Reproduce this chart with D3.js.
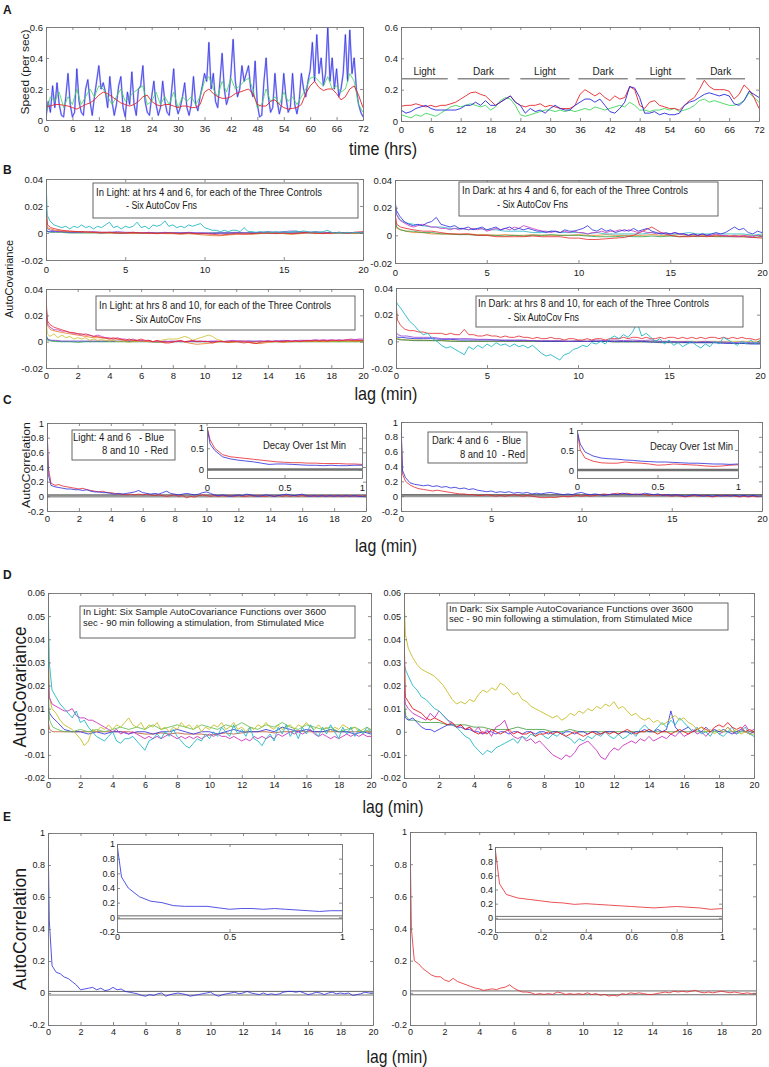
<!DOCTYPE html>
<html><head><meta charset="utf-8">
<script src="https://cdn.jsdelivr.net/npm/d3@7"></script>
<style>body{margin:0;background:#fff}svg{display:block}</style>
</head><body>
<script>
// ================= DATA =================
const hoursHalf = d3.range(0, 145).map(i => i * 0.5);
const hoursOne = d3.range(0, 73);
const lagFine = [0, 0.08].concat(d3.range(1, 81).map(i => i * 0.25));
const lagCoarse = [0, 0.1, 0.3, 0.6].concat(d3.range(0, 39).map(i => 1 + i * 0.5));
const lagInset = [0, 0.02].concat(d3.range(1, 21).map(i => i * 0.05));

const ticksHours = [0,6,12,18,24,30,36,42,48,54,60,66,72];
const ticksSpeed = [0,0.2,0.4,0.6];
const ticksLag5 = [0,5,10,15,20];
const ticksLag2 = [0,2,4,6,8,10,12,14,16,18,20];
const ticksCov = [-0.02,0,0.02,0.04];
const ticksCorr = [-0.2,0,0.2,0.4,0.6,0.8,1];
const ticksCovD = [-0.02,-0.01,0,0.01,0.02,0.03,0.04,0.05,0.06];
const ticksHalf = [0,0.5,1];
const ticksFifth = [0,0.2,0.4,0.6,0.8,1];

// Panel A – light/dark phases
const phaseLabels = ["Light","Dark","Light","Dark","Light","Dark"];
const phaseStart = [0, 11.4, 24, 35.7, 47.2, 59.4];
const phaseEnd = [9.4, 21.8, 33.9, 45.6, 57.2, 69.2];
const phaseLevel = 0.27;

// Panel A left (speed, per sec)
const aLeftBlue = [
 .02,.12,.05,.22,.08,.24,.1,.03,.02,.15,.3,.1,
 .02,.05,.33,.12,.05,.03,.2,.26,.12,.03,.15,.25,
 .35,.2,.24,.18,.08,.28,.12,.03,.1,.22,.28,.08,
 .02,.18,.1,.31,.1,.03,.2,.22,.35,.12,.05,.03,
 .15,.25,.1,.03,.08,.25,.12,.05,.03,.18,.33,.1,
 .04,.08,.15,.24,.08,.03,.1,.28,.1,.06,.15,.22,
 .3,.25,.5,.2,.3,.12,.08,.25,.43,.2,.1,.15,
 .3,.52,.25,.15,.2,.35,.25,.3,.35,.2,.15,.38,
 .1,.02,.03,.25,.4,.15,.05,.08,.3,.12,.04,.1,
 .3,.15,.05,.08,.3,.1,.04,.12,.3,.2,.15,.25,
 .32,.5,.25,.55,.3,.4,.22,.3,.6,.25,.4,.2,
 .33,.15,.2,.3,.55,.25,.58,.3,.4,.2,.1,.05,
 .02];
const aLeftGreen = [
 .05,.15,.12,.18,.08,.15,.1,.2,.1,.15,.2,.15,
 .22,.2,.15,.1,.15,.2,.12,.15,.18,.2,.22,.1,
 .12,.18,.1,.15,.1,.18,.08,.15,.12,.15,.1,.15,
 .25,.28,.2,.15,.25,.18,.27,.2,.22,.25,.27,.2,
 .08,.1,.2,.12,.15,.1,.18,.12,.15,.1,.15,.2,
 .27,.28,.25,.22,.28,.2,.22,.18,.2,.3,.25,.1,
 .05];
const aLeftRed = [
 .086,.09,.1,.1,.095,.09,.08,.07,.085,.1,.11,.13,
 .16,.18,.17,.15,.13,.11,.1,.09,.1,.12,.15,.16,
 .12,.1,.09,.1,.1,.09,.08,.09,.09,.08,.08,.1,
 .18,.2,.17,.15,.14,.14,.15,.17,.18,.19,.2,.17,
 .1,.09,.09,.12,.13,.1,.08,.07,.075,.08,.1,.17,
 .22,.25,.21,.19,.2,.2,.17,.13,.15,.2,.22,.16,
 .08];
// Panel A right
const aRightRed = [
 .094,.1,.1,.11,.1,.09,.1,.09,.1,.1,.11,.12,
 .14,.16,.18,.185,.17,.16,.13,.1,.12,.14,.16,.12,
 .1,.09,.1,.1,.11,.09,.1,.09,.08,.08,.08,.1,
 .17,.2,.18,.16,.18,.15,.13,.16,.14,.15,.22,.2,
 .1,.08,.12,.13,.1,.09,.08,.08,.07,.1,.13,.15,
 .2,.26,.22,.2,.2,.2,.19,.14,.17,.23,.2,.15,
 .08];
const aRightBlue = [
 .07,.05,.06,.08,.09,.1,.08,.07,.07,.07,.07,.07,
 .08,.1,.1,.12,.1,.13,.1,.1,.12,.14,.16,.12,
 .1,.05,.08,.06,.07,.05,.08,.1,.08,.07,.07,.1,
 .12,.14,.14,.12,.14,.1,.06,.05,.08,.12,.22,.21,
 .15,.05,.05,.06,.04,.05,.04,.04,.05,.1,.12,.13,
 .15,.17,.18,.17,.16,.17,.16,.11,.1,.13,.19,.17,
 .15];
const aRightGreen = [
 .04,.03,.02,.04,.03,.05,.04,.03,.05,.07,.09,.1,
 .09,.1,.11,.1,.09,.1,.07,.09,.13,.15,.14,.1,
 .04,.03,.04,.05,.06,.07,.07,.06,.07,.06,.07,.06,
 .07,.08,.07,.09,.08,.07,.08,.09,.1,.09,.12,.1,
 .07,.07,.06,.07,.07,.08,.07,.08,.06,.07,.08,.1,
 .13,.14,.12,.13,.12,.11,.1,.1,.11,.13,.18,.15,
 .12];

// Panel B top-left (Light, hrs 4 and 6)
const bTLTeal = [.04,.013,
 .009,.006,.005,.004,.005,.003,.005,.004,
 .006,.004,.005,.003,.005,.004,.006,.008,
 .004,.005,.003,.005,.004,.005,.008,.004,
 .005,.003,.006,.005,.006,.009,.005,.006,
 .004,.005,.004,.006,.005,.006,.007,.004,
 .003,.002,.002,.001,.002,.001,.002,.002,
 .001,.004,.001,.001,.0005,.001,.0005,.001,
 .0005,.001,.0005,.001,.0005,.001,.0015,.001,
 .0015,.001,.0005,.001,.0005,.001,.002,.0005,
 0,.0005,0,.0005,0,.0005,0,.0005];
const bTLRed = [.02,.006,.004,.003,
 .002,.0015,.001,.001,.0005,.0005,.0005,0,
 0,.0005,0,0,-.0005,0,0,-.0005,
 0,-.0005,-.0005,-.001,-.0015,-.001,-.0005,-.001,
 -.0005,0,0,-.0005,0,-.0005,0,.0005,
 0,-.0005,0,.0005,0,.0005,.001];
const bTLOrange = [.015,.004,.003,.002,
 .0015,.001,.001,.0005,.0005,0,0,0,
 0,-.0005,0,-.0005,0,-.0005,-.0005,-.001,
 -.0005,-.001,-.0015,-.002,-.002,-.0015,-.001,-.0005,
 -.001,-.0005,0,0,-.0005,-.001,-.0005,0,
 -.0005,0,-.0005,0,0,-.0005,0];
const bTLPurple = [.006,.003,.002,.0015,
 .001,.001,.001,.0005,.001,.0005,.0005,.001,
 .0005,.0005,0,.0005,0,.0005,0,0,
 .0005,0,0,-.0005,0,0,.0005,0,
 0,.0005,.001,.0005,.001,.0015,.001,.0005,
 .001,.0005,0,.0005,0,.0005,.0005];
const bTLBlue = [.002,.001,.001,.001,
 .001,.0005,.0005,.0005,.0005,0,.0005,0,
 0,0,0,0,0,0,0,0,
 0,0,0,0,0,0,0,0,
 0,0,0,0,0,0,0,0,
 0,0,0,0,0,0,0];
const bTLGreen = [.004,.001,.0005,.0005,
 .0005,0,0,0,0,0,0,0,
 0,0,0,0,0,0,0,0,
 0,-.0005,-.0005,0,0,0,0,0,
 0,0,0,0,0,0,0,.0005,
 0,0,.0005,0,0,0,0];

// Panel B top-right (Dark, hrs 4 and 6)
const bTRBlue = [.025,.018,
 .014,.01,.008,.007,.008,.007,.009,.01,
 .013,.008,.007,.006,.007,.005,.005,.006,
 .004,.005,.006,.004,.005,.006,.004,.005,
 .006,.004,.005,.004,.005,.004,.003,.003,
 .002,.003,.003,.002,.004,.003,.003,.004,
 .005,.007,.004,.003,.005,.003,.004,.002,
 .003,.004,.003,.005,.003,.004,.005,.003,
 .002,.001,.002,.001,.002,.001,.001,0,
 .001,0,.001,0,.001,.002,.001,.002,
 .004,.006,.004,.005,.002,.001,.003,.002];
const bTRPurple = [.02,.015,
 .011,.009,.007,.006,.007,.008,.007,.006,
 .006,.005,.005,.004,.005,.004,.005,.004,
 .005,.004,.005,.003,.004,.005,.004,.005,
 .004,.006,.005,.007,.006,.005,.004,.003,
 .003,.002,.003,.002,.003,.002,.003,.002,
 .002,.001,.002,.002,.003,.002,.003,.003,
 .004,.003,.004,.003,.002,.003,.002,.002,
 .001,.002,.001,.001,.002,.001,.001,0,
 .001,0,.001,0,0,.001,0,0,
 -.001,0,-.001,0,-.001,-.001,0,-.001];
const bTRTeal = [.022,.015,.011,.009,
 .008,.007,.006,.006,.005,.005,.004,.005,
 .004,.004,.003,.003,.003,.002,.002,.003,
 .002,.002,.002,.001,.002,.001,.001,.001,
 .001,.001,.002,.001,.001,.001,.002,.001,
 .001,.001,.001,.001,.001,0,.001];
const bTRRed = [.016,.008,.006,.005,
 .004,.003,.003,.002,.001,.001,.001,0,
 0,-.001,-.001,-.001,-.001,-.0005,-.001,-.001,
 -.001,-.002,-.002,-.003,-.003,-.0025,-.002,-.0015,
 0,.003,.006,.002,0,-.001,-.001,-.0005,
 -.001,-.0005,-.0005,-.001,-.001,-.0015,-.002];
const bTRGreen = [.01,.006,.004,.003,
 .003,.002,.002,.001,.001,.0005,.0005,0,
 0,0,-.0005,0,-.0005,0,0,.0005,
 0,0,0,-.0005,-.001,-.001,-.001,-.0005,
 -.001,-.001,-.0005,-.001,-.0005,-.001,-.0005,-.001,
 -.0005,-.001,-.001,-.001,-.001,-.0015,-.001];
const bTROrange = [.012,.005,.004,.003,
 .002,.002,.001,.001,.001,.0005,.001,.0005,
 .0005,0,.0005,0,0,.0005,0,0,
 0,0,.0005,0,0,.0005,0,0,
 0,0,.0005,0,0,.0005,0,0,
 0,0,-.0005,0,0,0,-.0005];

// Panel B bottom-left (Light, hrs 8 and 10)
const bBLRed = [.035,.016,
 .013,.011,.01,.009,.008,.007,.007,.006,
 .006,.005,.005,.004,.004,.003,.003,.002,
 .003,.002,.002,.001,.002,.001,.001,.002,
 .001,.001,0,.001,0,-.001,-.001,-.0005,
 .0005,.001,0,.0005,.001,0,.0005,0,
 0,-.001,0,.0005,0,-.0005,0,0,
 -.0005,-.001,-.0005,-.001,-.0015,-.0005,0,.0005,
 0,.0005,0,0,.0005,0,.0005,0,
 .0005,.001,.0005,.001,.0005,.001,.0005,.001,
 .001,.0005,.001,.0015,.001,.0005,.001,.001];
const bBLMagenta = [.03,.014,
 .011,.009,.009,.008,.008,.007,.006,.006,
 .005,.006,.005,.004,.005,.004,.003,.003,
 .002,.003,.002,.002,.001,.002,.001,.001,
 .0005,.001,0,.0005,0,.0005,0,0,
 0,.0005,0,0,.0005,0,0,.0005,
 0,0,.0005,0,0,.0005,.001,.0005,
 .0005,0,.0005,0,0,.0005,0,.0005,
 0,.0005,0,.0005,.001,.0005,.001,.0005,
 .001,.0005,.001,.0015,.001,.0015,.001,.0015,
 .001,.0015,.001,.0015,.002,.0015,.002,.002];
const bBLYellow = [.02,.006,
 .004,.006,.003,.005,.003,.004,.002,.003,
 .002,.003,.001,.002,.001,.0015,.001,.0005,
 .001,0,.0005,0,-.0005,0,0,.0005,
 0,.0005,0,0,.001,.0015,.002,.002,
 .002,.003,.004,.003,.001,.002,.003,.004,
 .005,.004,.002,.001,0,0,-.0005,0,
 0,0,0,-.0005,0,0,0,0,
 0,0,0,0,0,0,0,0,
 0,0,0,0,0,0,0,0,
 0,0,0,0,0,0,0,0];
const bBLOrange = [.03,.012,.009,.008,
 .007,.006,.005,.004,.003,.003,.002,.002,
 .001,.001,.0005,0,0,-.0005,0,.0005,
 -.001,-.002,-.0015,-.001,0,-.0005,0,.0005,
 -.001,-.0015,-.0005,0,-.0005,0,.0005,0,
 .0005,0,.0005,.001,.0005,.001,.0005];
const bBLTeal = [.006,.002,.001,.0005,
 0,0,0,0,0,0,0,0,
 0,0,0,0,0,0,0,0,
 0,0,0,0,0,0,0,0,
 0,0,0,0,0,0,0,0,
 0,0,0,0,0,0,0];
const bBLGreen = [.005,.001,.0005,0,
 0,0,-.0005,0,0,0,0,0,
 0,0,0,0,-.0005,0,0,0,
 0,0,0,0,0,0,0,0,
 0,0,0,0,0,0,0,0,
 0,0,0,0,0,0,0];
const bBLPurple = [.004,.002,.001,.001,
 .0005,.0005,.0005,.0005,.0005,.0005,.0005,.0005,
 .0005,.0005,.0005,0,0,0,.0005,0,
 0,.0005,0,.0005,0,.0005,.0005,.0005,
 .0005,.0005,.0005,.0005,.001,.0005,.001,.001,
 .001,.001,.001,.001,.001,.0015,.001];

// Panel B bottom-right (Dark, hrs 8 and 10)
const bBRTeal = [.03,.028,
 .025,.02,.015,.012,.008,.005,.006,.002,
 0,-.003,-.005,-.004,-.006,-.008,-.01,-.004,
 -.006,-.003,-.005,-.002,-.004,-.001,-.003,-.002,
 -.004,-.002,-.004,-.003,-.005,-.003,-.006,-.009,
 -.011,-.01,-.012,-.014,-.01,-.009,-.006,-.005,
 -.003,-.004,-.001,-.002,0,-.002,.002,.004,
 .002,.005,.003,.007,.014,.004,.006,.003,
 0,.002,-.002,.001,-.003,-.001,-.004,-.002,
 0,-.003,-.005,-.002,-.004,0,-.002,.003,
 .001,-.001,-.003,0,-.002,.001,-.002,.001];
const bBRRed = [.03,.016,
 .012,.009,.008,.008,.007,.007,.006,.006,
 .006,.006,.005,.006,.005,.005,.009,.005,
 .005,.004,.004,.005,.004,.004,.003,.004,
 .003,.003,.004,.003,.003,.002,.003,.002,
 .002,.003,.002,.002,.001,.002,.002,.001,
 .001,.002,.001,.002,.002,.001,.002,.002,
 .002,.003,.002,.003,.003,.002,.003,.002,
 .002,.003,.002,.003,.003,.002,.003,.002,
 .003,.002,.003,.002,.003,.003,.002,.003,
 .002,.003,.002,.003,.002,.002,.001,.002];
const bBRPurple = [.007,.005,.004,.004,
 .003,.003,.003,.002,.002,.002,.002,.0015,
 .0015,.001,.001,.001,.001,.0005,.0005,.0005,
 .0005,0,.0005,0,.001,.0005,.001,.0005,
 .001,.0005,.001,0,0,-.0005,0,-.0005,
 0,-.0005,-.0005,-.001,-.0005,-.001,-.001];
const bBRBlue = [.004,.003,.003,.0025,
 .002,.002,.002,.0015,.0015,.001,.001,.001,
 .001,.001,.0005,.0005,.0005,.0005,0,0,
 0,0,0,0,0,0,0,0,
 0,0,-.0005,-.0005,-.0005,-.0005,-.001,-.001,
 -.001,-.001,-.0015,-.0015,-.0015,-.002,-.002];
const bBRYellow = [.003,.002,.0015,.001,
 .001,.001,.0005,.0005,.0005,0,0,0,
 0,0,0,0,0,0,0,0,
 0,0,0,0,0,0,0,0,
 0,0,0,0,0,0,0,0,
 0,0,0,0,0,0,0];
const bBRGreen = [.002,.0015,.001,.001,
 .0005,.0005,.0005,.0005,0,0,0,0,
 0,0,0,0,0,0,0,0,
 0,0,0,0,0,0,-.0005,-.0005,
 -.0005,-.0005,-.0005,-.001,-.001,-.001,-.001,-.001,
 -.001,-.001,-.001,-.0015,-.0015,-.0015,-.0015];

// Panel C (autocorrelation, controls)
const cLBlue = [1,.3,
 .15,.13,.12,.11,.1,.1,.09,.09,
 .08,.09,.07,.06,.06,.05,.05,.04,
 .03,.04,.03,.04,.05,.06,.08,.05,
 .04,.03,.04,.03,.05,.07,.04,.03,
 .02,.03,.04,.03,.02,.03,.05,.06,
 .04,.02,.01,.02,.01,0,.01,.02,
 .01,.03,.02,.01,0,.01,.02,.01,
 0,.01,.02,.03,.02,.01,.02,.03,
 .01,0,.01,0,.01,0,.01,0,
 .01,0,.01,0,.01,0,0,0];
const cLRed = [1,.4,
 .18,.15,.16,.14,.13,.12,.11,.1,
 .11,.09,.08,.07,.06,.07,.05,.05,
 .04,.03,.03,.02,.03,.02,.03,.02,
 .03,.02,.01,.02,.01,0,.01,.02,
 0,.01,-.02,0,-.01,.01,.02,.01,
 0,.01,0,.01,0,.01,0,.01,
 0,0,.01,0,.01,0,0,.01,
 0,.01,0,.01,0,.01,0,.01,
 0,.01,0,.01,0,.01,0,.01,
 0,.01,0,.01,0,.01,0,.01];
const cRBlue = [1,.35,
 .25,.18,.16,.15,.14,.15,.13,.14,
 .12,.13,.11,.12,.1,.11,.09,.1,
 .08,.07,.06,.07,.05,.06,.05,.06,
 .04,.05,.04,.05,.03,.04,.03,.04,
 .05,.04,.03,.02,.03,.02,.04,.05,
 .03,.02,.03,.02,.01,.02,.03,.02,
 .04,.03,.02,.03,.02,.04,.03,.02,
 .03,.01,.02,.01,.02,.01,0,.01,
 .02,.01,0,.01,0,.01,0,.01,
 0,.01,0,.01,0,.01,0,0];
const cRRed = [1,.3,
 .2,.15,.12,.1,.09,.08,.07,.08,
 .07,.06,.05,.04,.03,.03,.02,.02,
 .01,.01,.02,.01,0,.01,0,.01,
 .02,.01,0,.01,0,-.01,-.02,-.02,
 -.015,-.02,-.01,0,-.01,0,.01,0,
 .01,0,.01,.02,.03,.02,.03,.04,
 .03,.04,.03,.02,.03,.02,.01,.02,
 .01,.02,.01,0,.01,0,-.01,0,
 .01,0,.01,0,-.01,0,.01,0,
 .01,0,-.01,0,-.01,0,-.01,0];
const cLInsetBlue = [1,.6,.45,.3,.25,.22,.2,.18,.15,.12,.13,.13,.12,.11,.1,.1,.09,.1,.09,.09,.1,.1];
const cLInsetRed = [1,.7,.5,.35,.3,.28,.26,.24,.22,.2,.18,.17,.16,.16,.15,.15,.14,.14,.14,.13,.13,.12];
const cRInsetBlue = [1,.65,.45,.35,.3,.28,.27,.25,.24,.22,.21,.2,.2,.19,.18,.17,.17,.16,.15,.15,.14,.15];
const cRInsetRed = [1,.5,.3,.22,.18,.17,.17,.2,.18,.17,.15,.12,.13,.15,.14,.13,.12,.1,.09,.1,.12,.13];

// Panel D left (Light, stimulated)
const dLTeal = [.058,.03,
 .018,.015,.012,.01,.008,.006,.009,.004,
 .005,.002,0,-.002,-.003,-.004,-.002,0,
 -.004,-.005,-.003,-.003,-.002,-.004,-.006,-.008,
 -.004,-.003,-.001,-.003,0,-.002,.001,-.002,
 -.004,-.006,-.007,-.005,-.003,-.004,-.001,-.003,
 0,-.002,.002,0,-.002,.003,-.001,.001,
 -.002,.002,-.003,-.004,-.006,-.003,-.001,-.004,
 .002,-.001,.003,-.002,.001,-.003,.002,-.001,
 .003,0,-.002,.002,-.001,.003,0,-.003,
 .002,-.001,.002,-.002,.001,-.001,.002,0];
const dLMagenta = [.03,.015,
 .012,.011,.01,.009,.009,.01,.007,.006,
 .006,.005,.005,.004,.003,.002,.001,0,
 .001,-.001,0,-.001,0,-.001,-.002,-.003,
 -.002,-.003,-.002,-.003,-.002,-.001,-.002,-.003,
 -.002,-.003,-.002,-.003,-.002,-.003,-.002,-.001,
 -.002,-.001,-.002,-.002,-.003,-.002,-.003,-.004,
 -.003,-.004,-.002,-.003,-.002,-.003,-.002,-.003,
 -.001,-.002,-.001,0,-.001,0,-.001,0,
 .001,-.001,-.002,-.001,-.002,-.003,-.002,-.003,
 -.002,-.001,-.002,-.001,-.002,-.001,-.002,-.002];
const dLYellow = [.06,.015,
 .01,.008,.005,.003,.002,.001,-.001,-.003,
 -.006,-.004,.001,0,.002,.001,.003,.001,
 .003,.002,.004,.006,.003,.002,.004,.001,
 .003,.002,.004,.001,.002,0,.002,.001,
 .004,.002,.003,.001,.003,0,.002,.001,
 .003,.002,.004,.001,.002,.004,.001,.002,
 0,.002,.001,.003,.002,.004,.002,.001,
 .003,.001,.002,.003,.001,.003,.002,.004,
 .002,.001,.003,.001,.002,0,.002,.001,
 .003,.002,.001,.002,0,.001,.002,.001];
const dLGreen = [.02,.005,.002,.001,
 0,0,.001,0,.001,0,.001,.002,
 .001,.002,.001,.003,.001,.002,.003,.002,
 .001,.003,.002,.001,.003,.002,.004,.002,
 .001,.003,.002,.004,.002,.001,.003,.002,
 .001,.002,0,.001,.002,0,.001];
const dLBlue = [.01,.008,.006,.004,
 .001,0,0,-.001,0,-.001,0,0,
 -.001,0,0,-.001,0,0,.001,0,
 -.001,0,0,-.001,0,.001,0,0,
 0,.001,0,.002,.001,0,.001,0,
 0,.001,0,0,-.001,0,-.001];
const dLRed = [.005,.001,0,0,
 0,0,0,0,0,0,0,0,
 0,-.0005,-.001,-.001,-.0005,-.001,-.0005,-.001,
 -.001,-.001,-.0015,-.001,-.0005,-.001,-.0005,0,
 0,0,-.0005,0,0,.0005,0,0,
 0,0,0,0,0,0,0];

// Panel D right (Dark, stimulated)
const dRYellow = [.06,.042,
 .036,.032,.029,.027,.026,.025,.024,.022,
 .02,.017,.014,.012,.013,.012,.014,.013,
 .016,.018,.017,.019,.018,.021,.02,.018,
 .016,.017,.014,.013,.011,.01,.009,.008,
 .007,.006,.007,.005,.006,.008,.007,.009,
 .008,.01,.009,.011,.01,.012,.011,.013,
 .01,.011,.009,.007,.008,.006,.005,.006,
 .004,.005,.003,.004,.006,.007,.005,.006,
 .004,.003,.001,.002,0,.001,-.001,.001,
 0,.002,0,.001,-.001,0,-.001,-.001];
const dRTeal = [.03,.027,
 .024,.02,.018,.015,.014,.012,.01,.009,
 .007,.005,.003,.002,0,-.002,-.003,-.006,
 -.008,-.01,-.008,-.009,-.007,-.006,-.005,-.004,
 -.003,-.005,-.002,-.003,-.001,-.002,0,-.002,
 -.003,-.001,-.002,0,-.002,-.003,-.005,-.003,
 -.004,-.002,-.003,-.001,-.002,0,-.002,-.003,
 -.001,-.003,-.002,0,-.002,.001,.003,.001,
 0,.002,.004,.002,.005,.003,.006,.004,
 .002,0,.002,-.001,0,-.002,.001,-.001,
 -.002,0,.002,-.001,0,.002,-.001,-.002];
const dRRed = [.045,.015,
 .013,.01,.009,.008,.006,.005,.006,.005,
 .004,.003,.004,.002,.003,.001,.002,0,
 -.001,0,-.001,.001,0,-.001,0,.001,
 -.001,0,-.001,-.001,0,-.002,-.001,-.001,
 0,-.001,0,-.001,-.002,-.001,0,-.001,
 -.002,-.001,0,-.001,-.001,0,-.001,0,
 -.001,0,.001,0,-.001,0,0,.001,
 0,-.001,0,0,-.001,0,.001,0,
 -.001,0,.001,.002,.001,0,.002,.003,
 .002,.004,.002,.001,.002,0,.001,0];
const dRMagenta = [.02,.012,
 .01,.008,.007,.006,.005,.008,.006,.009,
 .007,.005,.004,.002,.003,.001,.002,0,
 .002,-.001,.001,-.002,.002,.003,.005,0,
 -.002,-.003,-.002,-.004,-.003,-.005,-.004,-.006,
 -.008,-.01,-.011,-.012,-.01,-.011,-.009,-.006,
 -.005,-.004,-.006,-.008,-.011,-.012,-.009,-.007,
 -.008,-.006,-.005,-.004,-.005,-.003,-.004,-.002,
 -.004,-.003,-.002,-.003,-.001,-.002,0,-.002,
 -.001,.001,-.001,0,-.002,0,.001,-.001,
 0,.002,0,-.001,.001,.003,0,.001];
const dRBlue = [.01,.006,
 .005,.006,.004,.002,.001,.001,0,.001,
 .002,.003,.003,.002,.002,.001,.001,0,
 0,-.001,0,0,-.001,0,0,-.001,
 0,0,-.001,0,0,-.001,0,0,
 -.001,0,0,-.001,0,0,-.001,0,
 0,-.001,0,0,-.001,0,0,0,
 -.001,0,0,-.001,0,0,.001,0,
 0,.001,0,.001,.009,.002,0,.001,
 .002,0,.001,0,.002,0,.001,0,
 .001,0,-.001,0,.001,0,-.001,0];
const dRGreen = [.015,.007,.005,.005,
 .004,.004,.004,.003,.003,.003,.002,.002,
 .001,.001,.001,.002,.001,.001,.001,0,
 0,.001,0,0,0,0,0,0,
 0,0,0,0,0,0,0,0,
 0,0,0,0,0,0,0];

// Panel E (autocorrelation, stimulated)
const eLBlue = [1,.45,
 .17,.13,.12,.1,.09,.07,.05,.02,
 .025,.03,.035,.02,.03,.015,.02,.035,
 .02,.025,.01,.005,0,-.005,-.015,-.02,
 -.01,-.015,-.005,0,-.02,-.01,-.005,0,
 -.005,-.01,-.02,-.015,-.01,-.005,0,.005,
 -.01,-.02,-.01,-.005,0,.005,-.005,0,
 .01,0,-.005,-.01,0,-.01,-.005,-.01,
 -.005,.005,.01,.01,.005,.01,0,-.01,
 -.005,.005,0,-.01,0,.005,-.005,0,
 -.005,0,-.015,-.01,-.005,.005,0,0];
const eRRed = [1,.4,
 .2,.18,.15,.13,.11,.1,.1,.08,
 .07,.09,.07,.06,.05,.04,.03,.025,
 .015,.02,.025,.02,.03,.035,.05,.03,
 .015,.005,.005,0,-.01,-.005,-.01,-.005,
 -.01,.005,0,-.01,-.005,-.01,-.005,-.01,
 0,-.01,-.005,-.015,-.01,-.02,-.015,-.02,
 -.005,-.01,0,-.005,0,-.005,-.01,-.01,
 -.005,0,.005,0,.01,.005,.01,.005,
 .01,.015,.005,0,.005,0,.005,.01,
 .005,0,.005,0,-.005,0,-.005,-.005];
const eLInsetBlue = [1,.55,.4,.28,.22,.2,.16,.15,.15,.15,.13,.11,.12,.12,.11,.12,.11,.1,.09,.08,.09,.09];
const eRInsetRed = [1,.48,.33,.28,.26,.24,.22,.21,.19,.2,.19,.18,.17,.16,.15,.14,.15,.16,.15,.14,.12,.13];

// ================= DRAWING =================
const FONT = "'Liberation Sans', Arial, Helvetica, sans-serif";
const INK = "#1a1a1a";
const BOX = "#707070";
const fmt = d => String(+(+d).toFixed(4));
const COL = {
  teal:"#22b8c6", red:"#e6252a", orange:"#e8791e", purple:"#8c3fd0", blue:"#2828dc",
  green:"#2f9e44", yellow:"#c6bd26", magenta:"#cc33c0", lgreen:"#3fd65a", lblue:"#8a8aff"
};

const svg = d3.select("body").append("svg").attr("width", 769).attr("height", 1067)
  .style("font-family", FONT);
svg.append("rect").attr("width", 769).attr("height", 1067).attr("fill", "#fff");
let clipN = 0;

function makePanel(c) {
  const x = d3.scaleLinear().domain(c.xd).range([c.x0, c.x1]);
  const y = d3.scaleLinear().domain(c.yd).range([c.y1, c.y0]);
  const g = svg.append("g");
  g.append("rect").attr("x", c.x0).attr("y", c.y0).attr("width", c.x1 - c.x0)
    .attr("height", c.y1 - c.y0).attr("fill", "#fff");
  const id = "clip" + (clipN++);
  svg.append("clipPath").attr("id", id).append("rect").attr("x", c.x0).attr("y", c.y0)
    .attr("width", c.x1 - c.x0).attr("height", c.y1 - c.y0);
  const data = g.append("g").attr("clip-path", `url(#${id})`);
  const ax = g.append("g");
  const ts = c.ts || 3;
  ax.append("g").attr("transform", `translate(0,${c.y1})`)
    .call(d3.axisBottom(x).tickValues(c.xt).tickSizeInner(-ts).tickSizeOuter(0).tickPadding(c.xpad ?? 5).tickFormat(fmt));
  ax.append("g").attr("transform", `translate(0,${c.y0})`)
    .call(d3.axisTop(x).tickValues(c.xt).tickSizeInner(-ts).tickSizeOuter(0).tickFormat(""));
  ax.append("g").attr("transform", `translate(${c.x0},0)`)
    .call(d3.axisLeft(y).tickValues(c.yt).tickSizeInner(-ts).tickSizeOuter(0).tickPadding(c.ypad ?? 3).tickFormat(fmt));
  ax.append("g").attr("transform", `translate(${c.x1},0)`)
    .call(d3.axisRight(y).tickValues(c.yt).tickSizeInner(-ts).tickSizeOuter(0).tickFormat(""));
  ax.selectAll("g").attr("font-family", FONT).attr("font-size", c.fs || 9.5);
  ax.selectAll("path.domain").attr("stroke", BOX).attr("stroke-width", 0.9);
  ax.selectAll(".tick line").attr("stroke", BOX).attr("stroke-width", 0.8);
  ax.selectAll("text").attr("fill", INK);
  return { x, y, data, g, c };
}

function addLine(p, xs, ys, color, w = 0.8, op = 1) {
  if (xs.length !== ys.length) console.error("length mismatch", xs.length, ys.length, color);
  const n = Math.min(xs.length, ys.length);
  const pts = d3.range(n).map(i => [xs[i], ys[i]]);
  p.data.append("path").datum(pts)
    .attr("d", d3.line().x(d => p.x(d[0])).y(d => p.y(d[1])))
    .attr("fill", "none").attr("stroke", color).attr("stroke-width", w)
    .attr("stroke-opacity", op).attr("stroke-linejoin", "round");
}
function hLine(p, level, color, w) {
  p.data.append("line").attr("x1", p.c.x0).attr("x2", p.c.x1)
    .attr("y1", p.y(level)).attr("y2", p.y(level))
    .attr("stroke", color).attr("stroke-width", w);
}
function text(x, y, s, o = {}) {
  const t = svg.append("text").attr("x", x).attr("y", y).attr("dy", ".35em")
    .attr("font-size", o.fs || 10).attr("fill", INK).attr("font-family", FONT)
    .attr("text-anchor", o.anchor || "start").style("white-space", "pre").text(s);
  if (o.bold) t.attr("font-weight", "bold");
  if (o.len) t.attr("textLength", o.len).attr("lengthAdjust", "spacingAndGlyphs");
  if (o.rot) t.attr("transform", `rotate(-90,${x},${y})`);
  return t;
}
function box(x0, y0, x1, y1) {
  svg.append("rect").attr("x", x0).attr("y", y0).attr("width", x1 - x0).attr("height", y1 - y0)
    .attr("fill", "#fff").attr("stroke", "#555").attr("stroke-width", 0.9);
}

// ---------- Panel letters ----------
text(3, 10, "A", { fs: 12, bold: true });
text(3, 170, "B", { fs: 12, bold: true });
text(3, 400, "C", { fs: 12, bold: true });
text(3, 575, "D", { fs: 12, bold: true });
text(3, 817, "E", { fs: 12, bold: true });

// ---------- Panel A ----------
const pAL = makePanel({ x0: 46, x1: 363, y0: 27, y1: 120, xd: [0, 72], yd: [0, 0.6], xt: ticksHours, yt: ticksSpeed, fs: 9.5, xpad: 5 });
addLine(pAL, hoursHalf, aLeftBlue, COL.lblue, 1.8, 0.6);
addLine(pAL, hoursHalf, aLeftBlue, COL.blue, 0.7);
addLine(pAL, hoursOne, aLeftGreen, COL.lgreen, 0.9, 0.9);
addLine(pAL, hoursOne, aLeftRed, COL.red, 0.9);
text(25, 72, "Speed (per sec)", { fs: 10, anchor: "middle", rot: true, len: 85 });

const pAR = makePanel({ x0: 401, x1: 759, y0: 27, y1: 121, xd: [0, 72], yd: [0, 0.6], xt: ticksHours, yt: ticksSpeed, fs: 9.5, xpad: 5 });
addLine(pAR, hoursOne, aRightGreen, COL.lgreen, 0.9);
addLine(pAR, hoursOne, aRightRed, COL.red, 0.9);
addLine(pAR, hoursOne, aRightBlue, COL.blue, 0.9);
phaseLabels.forEach((lab, i) => {
  pAR.g.append("line").attr("x1", pAR.x(phaseStart[i])).attr("x2", pAR.x(phaseEnd[i]))
    .attr("y1", pAR.y(phaseLevel)).attr("y2", pAR.y(phaseLevel))
    .attr("stroke", "#8a8a8a").attr("stroke-width", 1.4);
  text((pAR.x(phaseStart[i]) + pAR.x(phaseEnd[i])) / 2, pAR.y(phaseLevel) - 7, lab, { fs: 10, anchor: "middle" });
});
text(383, 148, "time (hrs)", { fs: 19, anchor: "middle", len: 68 });

// ---------- Panel B ----------
const pBTL = makePanel({ x0: 46, x1: 363, y0: 179, y1: 260, xd: [0, 20], yd: [-0.02, 0.04], xt: ticksLag5, yt: ticksCov, fs: 9.5, xpad: 6 });
addLine(pBTL, lagCoarse, bTLGreen, COL.green);
addLine(pBTL, lagCoarse, bTLBlue, COL.blue);
addLine(pBTL, lagCoarse, bTLPurple, COL.purple);
addLine(pBTL, lagCoarse, bTLOrange, COL.orange);
addLine(pBTL, lagCoarse, bTLRed, COL.red);
addLine(pBTL, lagFine, bTLTeal, COL.teal, 0.9);
box(93, 183, 358, 218);
text(96, 192, "In Light: at hrs 4 and 6, for each of the Three Controls", { fs: 10, len: 226 });
text(126, 205, "- Six AutoCov Fns", { fs: 10, len: 71 });

const pBTR = makePanel({ x0: 395, x1: 762, y0: 180, y1: 263, xd: [0, 20], yd: [-0.02, 0.04], xt: ticksLag5, yt: ticksCov, fs: 9.5, xpad: 6 });
addLine(pBTR, lagCoarse, bTROrange, COL.orange);
addLine(pBTR, lagCoarse, bTRGreen, COL.green);
addLine(pBTR, lagCoarse, bTRTeal, COL.teal);
addLine(pBTR, lagCoarse, bTRRed, COL.red);
addLine(pBTR, lagFine, bTRPurple, COL.magenta);
addLine(pBTR, lagFine, bTRBlue, COL.blue);
box(459, 182, 718, 216);
text(462, 190, "In Dark: at hrs 4 and 6, for each of the Three Controls", { fs: 10, len: 226 });
text(497, 204, "- Six AutoCov Fns", { fs: 10, len: 71 });

const pBBL = makePanel({ x0: 46, x1: 363, y0: 289, y1: 368, xd: [0, 20], yd: [-0.02, 0.04], xt: ticksLag2, yt: ticksCov, fs: 9.5, xpad: 4 });
addLine(pBBL, lagCoarse, bBLTeal, COL.teal);
addLine(pBBL, lagCoarse, bBLGreen, COL.green);
addLine(pBBL, lagCoarse, bBLPurple, COL.purple);
addLine(pBBL, lagFine, bBLYellow, COL.yellow);
addLine(pBBL, lagCoarse, bBLOrange, COL.orange);
addLine(pBBL, lagFine, bBLMagenta, COL.magenta);
addLine(pBBL, lagFine, bBLRed, COL.red);
box(96, 296, 355, 330);
text(99, 305, "In Light: at hrs 8 and 10, for each of the Three Controls", { fs: 10, len: 232 });
text(130, 319, "- Six AutoCov Fns", { fs: 10, len: 71 });

const pBBR = makePanel({ x0: 396, x1: 760, y0: 288, y1: 368, xd: [0, 20], yd: [-0.02, 0.04], xt: ticksLag5, yt: ticksCov, fs: 9.5, xpad: 4 });
addLine(pBBR, lagCoarse, bBRYellow, COL.yellow);
addLine(pBBR, lagCoarse, bBRGreen, "#2f6f3a");
addLine(pBBR, lagCoarse, bBRBlue, COL.blue);
addLine(pBBR, lagCoarse, bBRPurple, COL.purple);
addLine(pBBR, lagFine, bBRRed, COL.red);
addLine(pBBR, lagFine, bBRTeal, COL.teal, 0.9);
box(476, 296, 743, 327);
text(478, 303, "In Dark: at hrs 8 and 10, for each of the Three Controls", { fs: 10, len: 231 });
text(508, 317, "- Six AutoCov Fns", { fs: 10, len: 71 });

text(9, 279, "AutoCovariance", { fs: 11, anchor: "middle", rot: true, len: 78 });
text(386, 393, "lag (min)", { fs: 19, anchor: "middle", len: 63 });

// ---------- Panel C ----------
const pCL = makePanel({ x0: 47, x1: 366, y0: 423, y1: 511, xd: [0, 20], yd: [-0.2, 1], xt: ticksLag2, yt: ticksCorr, fs: 9.5, xpad: 4 });
hLine(pCL, 0, "#9a9a9a", 2.2);
hLine(pCL, 0.02, "#444", 0.9);
addLine(pCL, lagFine, cLRed, COL.red);
addLine(pCL, lagFine, cLBlue, COL.blue);
box(72, 430, 175, 460);
text(73, 437, "Light: 4 and 6   - Blue", { fs: 10, len: 91 });
text(102, 450, "8 and 10  - Red", { fs: 10, len: 66 });
const pCLi = makePanel({ x0: 207, x1: 362, y0: 427, y1: 478, xd: [0, 1], yd: [-0.2, 1], xt: ticksHalf, yt: ticksHalf, fs: 9.5, xpad: 6 });
hLine(pCLi, 0, "#707070", 2.4);
addLine(pCLi, lagInset, cLInsetRed, COL.red);
addLine(pCLi, lagInset, cLInsetBlue, COL.blue);
text(263, 445, "Decay Over 1st Min", { fs: 10, len: 83 });

const pCR = makePanel({ x0: 401, x1: 762, y0: 422, y1: 511, xd: [0, 20], yd: [-0.2, 1], xt: ticksLag5, yt: ticksCorr, fs: 9.5, xpad: 4 });
hLine(pCR, 0, "#9a9a9a", 2.2);
hLine(pCR, 0.02, "#444", 0.9);
addLine(pCR, lagFine, cRRed, COL.red);
addLine(pCR, lagFine, cRBlue, COL.blue);
box(428, 432, 527, 463);
text(432, 440, "Dark: 4 and 6   - Blue", { fs: 10, len: 89 });
text(460, 454, "8 and 10  - Red", { fs: 10, len: 65 });
const pCRi = makePanel({ x0: 577, x1: 738, y0: 430, y1: 478, xd: [0, 1], yd: [-0.2, 1], xt: ticksHalf, yt: ticksHalf, fs: 9.5, xpad: 5 });
hLine(pCRi, 0, "#707070", 2.4);
addLine(pCRi, lagInset, cRInsetRed, COL.red);
addLine(pCRi, lagInset, cRInsetBlue, COL.blue);
text(650, 446, "Decay Over 1st Min", { fs: 10, len: 83 });

text(26, 465, "AutoCorrelation", { fs: 11, anchor: "middle", rot: true, len: 86 });
text(386, 545, "lag (min)", { fs: 19, anchor: "middle", len: 62 });

// ---------- Panel D ----------
const pDL = makePanel({ x0: 48, x1: 371, y0: 593, y1: 778, xd: [0, 20], yd: [-0.02, 0.06], xt: ticksLag2, yt: ticksCovD, fs: 9, xpad: 4 });
addLine(pDL, lagCoarse, dLRed, "#c0502a");
addLine(pDL, lagCoarse, dLBlue, COL.blue);
addLine(pDL, lagCoarse, dLGreen, "#55b94a");
addLine(pDL, lagFine, dLYellow, COL.yellow, 0.9);
addLine(pDL, lagFine, dLMagenta, COL.magenta, 0.9);
addLine(pDL, lagFine, dLTeal, COL.teal, 0.9);
box(80, 606, 355, 638);
text(83, 612, "In Light: Six Sample AutoCovariance Functions over 3600", { fs: 9.5, len: 243 });
text(83, 623, "sec - 90 min following a stimulation, from Stimulated Mice", { fs: 9.5, len: 241 });

const pDR = makePanel({ x0: 404, x1: 754, y0: 593, y1: 778, xd: [0, 20], yd: [-0.02, 0.06], xt: ticksLag2, yt: ticksCovD, fs: 9, xpad: 4 });
addLine(pDR, lagCoarse, dRGreen, "#3a9a3a");
addLine(pDR, lagFine, dRBlue, COL.blue);
addLine(pDR, lagFine, dRMagenta, COL.magenta, 0.9);
addLine(pDR, lagFine, dRTeal, COL.teal, 0.9);
addLine(pDR, lagFine, dRRed, "#ee1c1c", 0.9);
addLine(pDR, lagFine, dRYellow, COL.yellow, 0.9);
box(447, 603, 728, 630);
text(449, 609, "In Dark: Six Sample AutoCovariance Functions over 3600", { fs: 9.5, len: 244 });
text(449, 619, "sec - 90 min following a stimulation, from Stimulated Mice", { fs: 9.5, len: 243 });

text(20, 687, "AutoCovariance", { fs: 18, anchor: "middle", rot: true, len: 121 });
text(393, 806, "lag (min)", { fs: 19, anchor: "middle", len: 61 });

// ---------- Panel E ----------
const pEL = makePanel({ x0: 48, x1: 373, y0: 833, y1: 1025, xd: [0, 20], yd: [-0.2, 1], xt: ticksLag2, yt: ticksCorr, fs: 9, xpad: 4 });
hLine(pEL, 0.01, "#555", 0.9);
hLine(pEL, -0.012, "#bbb", 2);
addLine(pEL, lagFine, eLBlue, COL.blue);
const pELi = makePanel({ x0: 117, x1: 342, y0: 844, y1: 932, xd: [0, 1], yd: [-0.2, 1], xt: ticksHalf, yt: ticksCorr, fs: 9, xpad: 2, ypad: 2 });
hLine(pELi, 0.02, "#555", 0.9);
hLine(pELi, -0.02, "#999", 1.6);
addLine(pELi, lagInset, eLInsetBlue, COL.blue);

const pER = makePanel({ x0: 410, x1: 756, y0: 832, y1: 1025, xd: [0, 20], yd: [-0.2, 1], xt: ticksLag2, yt: ticksCorr, fs: 9, xpad: 4 });
hLine(pER, 0.012, "#aaa", 1.6);
hLine(pER, -0.012, "#555", 0.9);
addLine(pER, lagFine, eRRed, COL.red);
const pERi = makePanel({ x0: 495, x1: 722, y0: 847, y1: 932, xd: [0, 1], yd: [-0.2, 1], xt: ticksFifth, yt: ticksCorr, fs: 9, xpad: 2, ypad: 2 });
hLine(pERi, 0.02, "#666", 0.9);
hLine(pERi, -0.02, "#666", 0.9);
addLine(pERi, lagInset, eRInsetRed, COL.red);

text(20, 929, "AutoCorrelation", { fs: 18, anchor: "middle", rot: true, len: 122 });
text(397, 1056, "lag (min)", { fs: 19, anchor: "middle", len: 61 });
</script>
</body></html>
